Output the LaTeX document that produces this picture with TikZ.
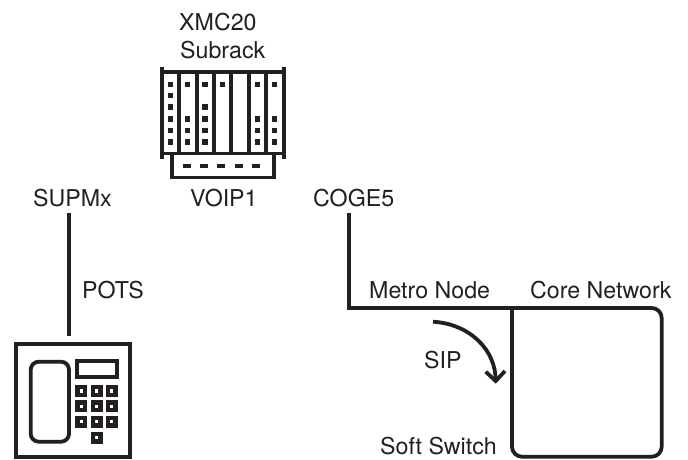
\documentclass[tikz,border=0pt]{standalone}
\usepackage{fontspec}
\setmainfont{TeX Gyre Heros}
\definecolor{ink}{HTML}{231F20}
\tikzset{
  lbl/.style={anchor=base west,inner sep=0pt,text=ink,font=\fontsize{23.2}{26}\selectfont},
  thick line/.style={draw=ink,line width=3.8pt},
  dot/.style={fill=ink,draw=none},
}
\begin{document}
\begin{tikzpicture}[x=1pt,y=-1pt]
\useasboundingbox (0,0) rectangle (688,459);
% labels
\node[lbl] (xmc) at (179,30) {XMC20};
\node[lbl] (sub) at (180,58) {Subrack};
\node[lbl] (supmx) at (33,206) {SUPMx};
\node[lbl] (voip) at (190,206) {VOIP1};
\node[lbl] (coge) at (313,206) {COGE5};
\node[lbl] (pots) at (82,298) {POTS};
\node[lbl] (metro) at (369,298) {Metro Node};
\node[lbl] (corelbl) at (530,298) {Core Network};
\node[lbl] (sip) at (424,368) {SIP};
\node[lbl] (soft) at (380,454) {Soft Switch};
% rack
\draw[thick line,line width=4.2pt] (161.7,67) -- (161.7,159);
\draw[thick line,line width=4.2pt] (283.7,67) -- (283.7,159);
\draw[thick line] (161.7,72) -- (283.7,72);
\draw[thick line] (161.7,153.5) -- (283.7,153.5);
\foreach \x in {179.3,196.7,214,231.3,248.7,266}
  \draw[thick line,line width=4.2pt] (\x,72) -- (\x,153.5);
\draw[thick line] (172,153.5) -- (172,177.5) -- (274,177.5) -- (274,153.5);
\foreach \x in {186.7,204,221.3,238.7,256}
  \fill[dot] (\x-4,164) rectangle (\x+4,167.5);
\foreach \x/\ys in {170.3/{84.3,95.3,107,119,130.3,142},
                    187.7/{84.3,119,130.3,142},
                    205/{84.3,107,119,130.3,142},
                    222.3/{84.3},
                    257.3/{84.3,119,130.3,142},
                    274.7/{84.3,119,130.3,142}}
  \foreach \y in \ys
    \fill[dot] (\x-2.6,\y-2.6) rectangle (\x+2.6,\y+2.6);
% phone
\node[thick line,draw,minimum width=114.3pt,minimum height=112.7pt,inner sep=0pt,outer sep=0pt] (phone) at (72.85,400.35) {};
\draw[thick line,rounded corners=8pt] (30.7,361.7) rectangle (69,441.7);
\draw[thick line] (76.7,360.7) rectangle (116.7,376.7);
\foreach \x/\y in {81.3/391,96.7/391,111.7/391,81.3/406.3,96.7/406.3,111.7/406.3,81.3/421.7,96.7/421.7,111.7/421.7,96.7/437.7}{
  \fill[dot] (\x-6,\y-6) rectangle (\x+6,\y+6);
  \fill[white] (\x-1.6,\y-1.6) rectangle (\x+1.6,\y+1.6);
}
% connectors
\coordinate (potsTop) at (69,213);
\coordinate (potsEnd) at (69,336);
\draw[thick line] (potsTop) -- (potsEnd);
\coordinate (cogeTop) at (349,213);
\coordinate (coreTL) at (512,308);
\draw[thick line] (cogeTop) -- (349,308) -- (coreTL);
\draw[thick line,line cap=rect] (coreTL) [rounded corners=10pt] -- (661.7,308) -- (661.7,456.7) -- (512,456.7) -- (coreTL);
% SIP arrow
\coordinate (sipA) at (433,321.7);
\coordinate (sipB) at (495.7,381);
\draw[thick line] (sipA) .. controls (470,324) and (496,350) .. (sipB);
\draw[thick line] (485.7,371.7) -- (sipB) -- (505,371);
\end{tikzpicture}
\end{document}
